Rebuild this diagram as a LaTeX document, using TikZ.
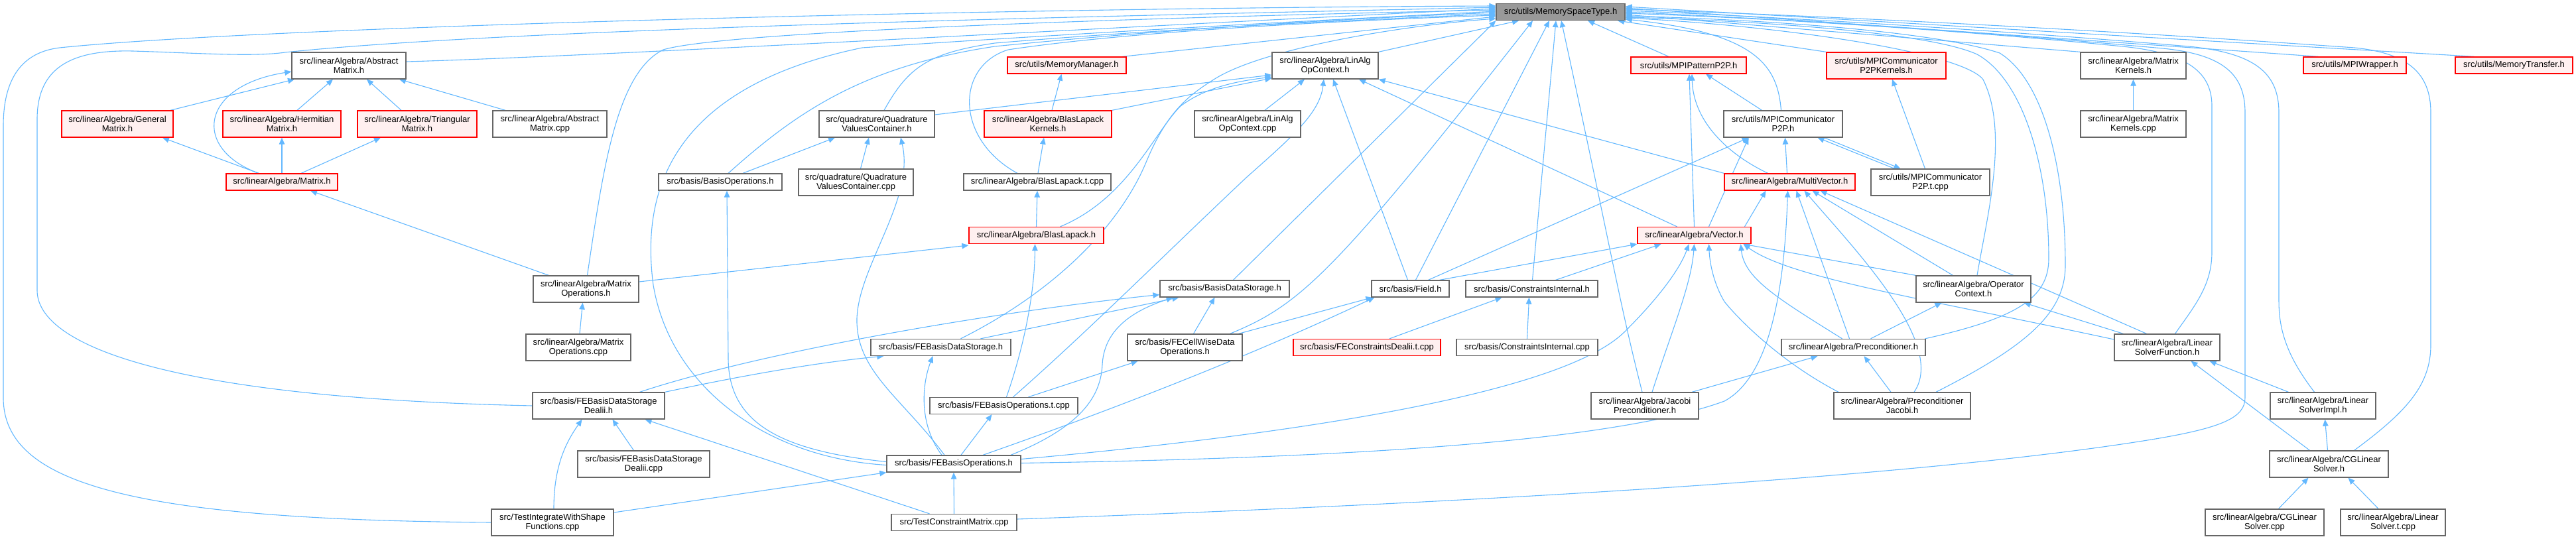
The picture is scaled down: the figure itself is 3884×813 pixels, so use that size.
\documentclass[tikz,border=0pt]{standalone}
\usepackage{fontspec}
\setmainfont{Liberation Sans}
\usetikzlibrary{arrows.meta}
\definecolor{edgec}{HTML}{63B8FF}
\definecolor{dgray}{HTML}{666666}
\definecolor{pinkf}{HTML}{FFF0F0}
\definecolor{rootf}{HTML}{999999}
\newcommand\nodefont{\fontsize{13pt}{14.3pt}\selectfont}
\pgfdeclarelayer{bg}
\pgfsetlayers{bg,main}
\begin{document}
\begin{tikzpicture}[x=1pt,y=-1pt,
  box/.style={draw=dgray, fill=white, line width=1.3pt, inner sep=0pt, align=center, font=\nodefont},
  gbox/.style={box},
  rbox/.style={box, draw=red, fill=pinkf},
  rootbox/.style={box, fill=rootf},
  e/.style={draw=edgec, line width=1.1pt, -{Triangle[length=10pt,width=8.5pt]}},
  one/.style={minimum height=25pt},
  two/.style={minimum height=40pt}]
\useasboundingbox (0,0) rectangle (3884,813);

\node[rootbox,one,minimum width=194pt] (root) at (2353,18) {src/utils/MemorySpaceType.h};
\node[gbox,two,minimum width=172pt] (absm) at (526,99) {src/linearAlgebra/Abstract\\Matrix.h};
\node[rbox,one,minimum width=179pt] (memmgr) at (1608.5,98.5) {src/utils/MemoryManager.h};
\node[gbox,two,minimum width=160pt] (linalg) at (1998,99) {src/linearAlgebra/LinAlg\\OpContext.h};
\node[rbox,one,minimum width=174pt] (mpipat) at (2546,98.5) {src/utils/MPIPatternP2P.h};
\node[rbox,two,minimum width=180pt] (p2pker) at (2844,99) {src/utils/MPICommunicator\\P2PKernels.h};
\node[gbox,two,minimum width=159pt] (matker) at (3216.5,99) {src/linearAlgebra/Matrix\\Kernels.h};
\node[rbox,one,minimum width=155pt] (mpiwrap) at (3550.5,98.5) {src/utils/MPIWrapper.h};
\node[rbox,one,minimum width=177pt] (memtr) at (3790.5,98.5) {src/utils/MemoryTransfer.h};
\node[rbox,two,minimum width=168pt] (genm) at (177,187) {src/linearAlgebra/General\\Matrix.h};
\node[rbox,two,minimum width=178pt] (herm) at (425,187) {src/linearAlgebra/Hermitian\\Matrix.h};
\node[rbox,two,minimum width=180pt] (trim) at (629,187) {src/linearAlgebra/Triangular\\Matrix.h};
\node[gbox,two,minimum width=172pt] (absmcpp) at (829,187) {src/linearAlgebra/Abstract\\Matrix.cpp};
\node[gbox,two,minimum width=174pt] (qvc) at (1322,187) {src/quadrature/Quadrature\\ValuesContainer.h};
\node[rbox,two,minimum width=192pt] (blk) at (1580,187) {src/linearAlgebra/BlasLapack\\Kernels.h};
\node[gbox,two,minimum width=160pt] (linalgcpp) at (1881,187) {src/linearAlgebra/LinAlg\\OpContext.cpp};
\node[gbox,two,minimum width=179pt] (p2p) at (2688.5,187) {src/utils/MPICommunicator\\P2P.h};
\node[gbox,two,minimum width=159pt] (matkercpp) at (3216.5,187) {src/linearAlgebra/Matrix\\Kernels.cpp};
\node[rbox,one,minimum width=168pt] (matrix) at (425,274.5) {src/linearAlgebra/Matrix.h};
\node[gbox,one,minimum width=186pt] (basisops) at (1086,274.5) {src/basis/BasisOperations.h};
\node[gbox,two,minimum width=173pt] (qvccpp) at (1290.5,275) {src/quadrature/Quadrature\\ValuesContainer.cpp};
\node[gbox,one,minimum width=222pt] (blt) at (1564,274.5) {src/linearAlgebra/BlasLapack.t.cpp};
\node[rbox,one,minimum width=197pt] (mv) at (2698.5,274.5) {src/linearAlgebra/MultiVector.h};
\node[gbox,two,minimum width=179pt] (p2pt) at (2910.5,275) {src/utils/MPICommunicator\\P2P.t.cpp};
\node[rbox,one,minimum width=203pt] (bl) at (1562.5,355) {src/linearAlgebra/BlasLapack.h};
\node[rbox,one,minimum width=171pt] (vec) at (2554.5,355) {src/linearAlgebra/Vector.h};
\node[gbox,two,minimum width=159pt] (matops) at (883.5,436) {src/linearAlgebra/Matrix\\Operations.h};
\node[gbox,one,minimum width=195pt] (bds) at (1846.5,435.5) {src/basis/BasisDataStorage.h};
\node[gbox,one,minimum width=117pt] (field) at (2126.5,435.5) {src/basis/Field.h};
\node[gbox,one,minimum width=199pt] (ci) at (2309.5,435.5) {src/basis/ConstraintsInternal.h};
\node[gbox,two,minimum width=173pt] (opctx) at (2975.5,436) {src/linearAlgebra/Operator\\Context.h};
\node[gbox,two,minimum width=158pt] (matopscpp) at (872,524) {src/linearAlgebra/Matrix\\Operations.cpp};
\node[gbox,one,minimum width=211pt] (febds) at (1418.5,524) {src/basis/FEBasisDataStorage.h};
\node[gbox,two,minimum width=173pt] (fecw) at (1786.5,524) {src/basis/FECellWiseData\\Operations.h};
\node[rbox,one,minimum width=222pt] (fect) at (2061,524) {src/basis/FEConstraintsDealii.t.cpp};
\node[gbox,one,minimum width=213pt] (cicpp) at (2302.5,524) {src/basis/ConstraintsInternal.cpp};
\node[gbox,one,minimum width=217pt] (prec) at (2794.5,524) {src/linearAlgebra/Preconditioner.h};
\node[gbox,two,minimum width=159pt] (lsf) at (3267.5,524) {src/linearAlgebra/Linear\\SolverFunction.h};
\node[gbox,two,minimum width=199pt] (febdsd) at (902.5,612) {src/basis/FEBasisDataStorage\\Dealii.h};
\node[gbox,one,minimum width=223pt] (febot) at (1513.5,612) {src/basis/FEBasisOperations.t.cpp};
\node[gbox,two,minimum width=162pt] (jacp) at (2480,612) {src/linearAlgebra/Jacobi\\Preconditioner.h};
\node[gbox,two,minimum width=206pt] (pjac) at (2868,612) {src/linearAlgebra/Preconditioner\\Jacobi.h};
\node[gbox,two,minimum width=159pt] (lsi) at (3502.5,612) {src/linearAlgebra/Linear\\SolverImpl.h};
\node[gbox,two,minimum width=199pt] (febdsdcpp) at (970.5,700) {src/basis/FEBasisDataStorage\\Dealii.cpp};
\node[gbox,one,minimum width=202pt] (febo) at (1438,699.5) {src/basis/FEBasisOperations.h};
\node[gbox,two,minimum width=179pt] (cgls) at (3511.5,700) {src/linearAlgebra/CGLinear\\Solver.h};
\node[gbox,two,minimum width=184pt] (testint) at (833,788) {src/TestIntegrateWithShape\\Functions.cpp};
\node[gbox,one,minimum width=189pt] (testcm) at (1438.5,788) {src/TestConstraintMatrix.cpp};
\node[gbox,two,minimum width=179pt] (cglscpp) at (3414.5,788) {src/linearAlgebra/CGLinear\\Solver.cpp};
\node[gbox,two,minimum width=158pt] (lst) at (3608,788) {src/linearAlgebra/Linear\\Solver.t.cpp};

\begin{pgfonlayer}{bg}
% ---------- left cluster ----------
\draw[e] ([xshift=80pt]genm.north) -- ([xshift=-82pt]absm.south);
\draw[e] ([xshift=23pt]herm.north) -- ([xshift=-24pt]absm.south);
\draw[e] ([xshift=-24pt]trim.north) -- ([xshift=27pt]absm.south);
\draw[e] ([xshift=-67pt]absmcpp.north) -- ([xshift=76pt]absm.south);
\draw[e] ([xshift=-35pt]matrix.north) -- ([xshift=68pt]genm.south);
\draw[e] (matrix.north) -- (herm.south);
\draw[e] ([xshift=29pt]matrix.north) -- ([xshift=-55pt]trim.south);
\draw[e] ([xshift=-35pt]matrix.north) .. controls (290,225) and (300,130) .. ([yshift=-9pt]absm.west);
\draw[e] ([xshift=-56pt]matops.north) -- ([xshift=43pt]matrix.south);
\draw[e] ([xshift=2pt]matopscpp.north) -- ([xshift=-5pt]matops.south);
\draw[e] ([yshift=11pt]matops.east) -- ([yshift=-15pt]bl.west);
% loops to root
\draw[e] (testint.west) .. controls (200,784) and (5,730) .. (5,600) -- (5,190) .. controls (5,110) and (40,78) .. (90,72) .. controls (400,40) and (1500,12) .. ([yshift=9pt]root.west);
\draw[e] (febdsd.west) .. controls (250,600) and (56,520) .. (56,438) -- (56,180) .. controls (56,100) and (110,75) .. (200,77) .. controls (300,80) and (380,86) .. (430,79) .. controls (800,40) and (1800,22) .. ([yshift=7pt]root.west);
\draw[e] ([yshift=6pt]absm.east) .. controls (900,85) and (1700,40) .. ([yshift=5pt]root.west);
\draw[e] ([xshift=2pt]matops.north) .. controls (910,250) and (930,110) .. (1000,75) .. controls (1100,45) and (1800,25) .. ([yshift=3pt]root.west);
\draw[e] ([yshift=-2pt]febo.west) .. controls (1150,690) and (1010,580) .. (985,430) .. controls (965,280) and (1020,130) .. (1300,72) .. controls (1700,45) and (2100,25) .. ([yshift=1pt]root.west);
\draw[e] ([yshift=3pt]febo.west) .. controls (1180,680) and (1098,640) .. (1098,540) -- ([xshift=10pt]basisops.south);
\draw[e] ([xshift=12pt]basisops.north) .. controls (1200,170) and (1300,100) .. (1500,70) .. controls (1800,40) and (2100,25) .. ([yshift=-1pt]root.west);
\draw[e] ([xshift=34pt]basisops.north) -- ([xshift=-63pt]qvc.south);
\draw[e] ([xshift=7pt]qvccpp.north) -- ([xshift=-12pt]qvc.south);
\draw[e] ([xshift=-14pt]febo.north) .. controls (1360,600) and (1290,560) .. (1292,480) .. controls (1295,400) and (1380,300) .. ([xshift=36pt]qvc.south);
\draw[e] ([yshift=14pt]qvc.east) -- ([yshift=-14pt]linalg.west);
\draw[e] ([xshift=11pt]qvc.north) .. controls (1370,100) and (1400,80) .. (1500,65) .. controls (1800,40) and (2100,28) .. ([yshift=-3pt]root.west);
\draw[e] ([xshift=6pt]blk.north) -- ([xshift=-8pt]memmgr.south);
\draw[e] (blk.north east) -- ([yshift=-19pt]linalg.west);
\draw[e] ([xshift=1pt]blt.north) -- ([xshift=-6pt]blk.south);
\draw[e] ([xshift=-30pt]blt.north) .. controls (1440,210) and (1440,100) .. (1520,75) .. controls (1700,48) and (2000,32) .. ([yshift=-5pt]root.west);
\draw[e] (bl.north) -- (blt.south);
\draw[e] ([xshift=36pt]bl.north) .. controls (1700,300) and (1740,200) .. (1780,160) .. controls (1820,130) and (1870,122) .. ([yshift=-17pt]linalg.west);
\draw[e] ([xshift=84pt]memmgr.north) -- ([yshift=-7pt]root.west);
\draw[e] ([xshift=30pt]febds.north) .. controls (1590,440) and (1690,340) .. (1730,240) .. controls (1760,170) and (1790,145) .. (1830,120) .. controls (1900,75) and (2100,40) .. ([yshift=-10pt]root.west);
\draw[e] (linalg.north east) -- ([xshift=-63pt]root.south);
\draw[e] ([xshift=26pt]linalgcpp.north) -- ([xshift=-31pt]linalg.south);
\draw[e] ([xshift=14pt]febot.north) .. controls (1640,500) and (1760,380) .. (1880,267) .. controls (1950,205) and (1990,170) .. ([xshift=-2pt]linalg.south);
\draw[e] ([xshift=-4pt]field.north) -- ([xshift=12pt]linalg.south);
\draw[e] ([xshift=-26pt]vec.north) -- ([xshift=51pt]linalg.south);
\draw[e] (mv.north west) -- (linalg.south east);
\draw[e] ([xshift=13pt]bds.north) -- (root.south west);
\draw[e] ([xshift=68pt]fecw.north) .. controls (1960,460) and (2010,415) .. ([xshift=-42pt]root.south);
\draw[e] ([xshift=81pt]fecw.north) -- ([xshift=2pt]field.south west);
\draw[e] ([xshift=13pt]fecw.north) -- ([xshift=-15pt]bds.south);
\draw[e] ([xshift=37pt]febot.north) -- ([xshift=-71pt]fecw.south);
\draw[e] ([xshift=4pt]febot.north) .. controls (1545,520) and (1560,440) .. ([xshift=-2pt]bl.south);
\draw[e] ([xshift=11pt]febo.north) -- ([xshift=-18pt]febot.south);
\draw[e] ([xshift=-18pt]febo.north) .. controls (1385,640) and (1390,580) .. ([xshift=-12pt]febds.south);
\draw[e] ([xshift=44pt]febo.north) .. controls (1700,610) and (1900,530) .. ([xshift=5pt]field.south west);
\draw[e] ([xshift=86pt]febo.north) .. controls (1640,640) and (1660,590) .. (1662,550) .. controls (1665,490) and (1720,465) .. ([xshift=-78pt]bds.south);
\draw[e] ([yshift=7pt]febo.east) .. controls (1900,660) and (2350,600) .. (2450,500) .. controls (2510,440) and (2535,400) .. ([xshift=-8pt]vec.south);
\draw[e] ([yshift=1pt]febo.east) .. controls (2100,690) and (2450,660) .. (2600,605) .. controls (2665,570) and (2690,450) .. ([xshift=-3pt]mv.south);
\draw[e] (testcm.north) -- (febo.south);
\draw[e] ([yshift=15pt]testint.east) -- (febo.south west);
\draw[e] ([xshift=-37pt]testcm.north) -- ([xshift=70pt]febdsd.south);
\draw[e] ([xshift=2pt]testint.north) .. controls (835,700) and (855,665) .. ([xshift=-25pt]febdsd.south);
\draw[e] ([xshift=-15pt]febdsdcpp.north) -- ([xshift=21pt]febdsd.south);
\draw[e] ([xshift=62pt]febdsd.north) .. controls (1150,530) and (1500,470) .. ([yshift=-9pt]bds.west);
\draw[e] (febdsd.north east) .. controls (1150,560) and (1250,545) .. ([xshift=20pt]febds.south west);
\draw[e] ([xshift=60pt]febds.north) -- ([xshift=-69pt]bds.south);
% ---------- right cluster ----------
\draw[e] ([xshift=-30pt]mpipat.north) -- ([xshift=41pt]root.south);
\draw[e] ([xshift=-32pt]p2p.north) -- ([xshift=26pt]mpipat.south);
\draw[e] ([xshift=-3pt]p2p.north) .. controls (2680,100) and (2650,50) .. ([yshift=-11pt]root.east);
\draw[e] ([xshift=-54pt]p2pt.north) -- ([xshift=52pt]p2p.south);
\draw[e] ([xshift=62pt]p2p.south) -- ([xshift=-45pt]p2pt.north);
\draw[e] ([xshift=-8pt]p2pt.north) -- ([xshift=9pt]p2pker.south);
\draw[e] (p2pker.north west) -- ([xshift=86pt]root.south);
\draw[e] (matker.north west) -- ([yshift=-4pt]root.east);
\draw[e] (matkercpp.north) -- (matker.south);
\draw[e] ([xshift=-55pt]mpiwrap.north) -- ([yshift=6pt]root.east);
\draw[e] ([xshift=-60pt]memtr.north) -- ([yshift=8pt]root.east);
\draw[e] ([xshift=5.5pt]opctx.north) .. controls (2995,330) and (3030,200) .. (2990,120) .. controls (2960,80) and (2700,40) .. ([yshift=-9pt]root.east);
\draw[e] ([xshift=108pt]prec.north) .. controls (3040,480) and (3089,450) .. (3089,390) .. controls (3089,250) and (3050,120) .. (2981,82) .. controls (2900,45) and (2600,30) .. ([yshift=-8pt]root.east);
\draw[e] ([xshift=51pt]pjac.north) .. controls (3060,520) and (3114,470) .. (3114,400) .. controls (3114,250) and (3080,120) .. (3015,80) .. controls (2900,42) and (2600,28) .. ([yshift=-6pt]root.east);
\draw[e] ([xshift=12pt]lsf.north) .. controls (3310,460) and (3335,430) .. (3335,380) -- (3335,160) .. controls (3335,110) and (3300,80) .. (3200,70) .. controls (2900,40) and (2600,25) .. ([yshift=-2pt]root.east);
\draw[e] ([yshift=5pt]testcm.east) .. controls (2200,760) and (2900,720) .. (3250,662) .. controls (3350,645) and (3385,630) .. (3385,600) -- (3385,170) .. controls (3385,110) and (3350,80) .. (3250,72) .. controls (2900,40) and (2600,25) .. (root.east);
\draw[e] ([xshift=-13pt]lsi.north) .. controls (3450,540) and (3436,500) .. (3436,455) -- (3436,170) .. controls (3436,110) and (3400,80) .. (3300,70) .. controls (2950,40) and (2600,22) .. ([yshift=2pt]root.east);
\draw[e] ([xshift=38pt]cgls.north) .. controls (3630,620) and (3665,580) .. (3665,520) -- (3665,170) .. controls (3665,110) and (3630,80) .. (3550,72) .. controls (3100,40) and (2650,20) .. ([yshift=4pt]root.east);
\draw[e] ([xshift=-52pt]lsi.north) -- ([xshift=64pt]lsf.south);
\draw[e] ([xshift=-29pt]cgls.north) -- ([xshift=36pt]lsf.south);
\draw[e] ([xshift=-2pt]cgls.north) -- ([xshift=3pt]lsi.south);
\draw[e] ([xshift=21pt]cglscpp.north) -- ([xshift=-31pt]cgls.south);
\draw[e] ([xshift=-22pt]lst.north) -- ([xshift=29pt]cgls.south);
\draw[e] ([xshift=-66pt]lsf.north) -- ([xshift=76pt]opctx.south);
\draw[e] ([yshift=12pt]lsf.west) .. controls (2900,450) and (2700,420) .. ([xshift=74pt]vec.south);
\draw[e] ([xshift=-31pt]lsf.north) -- ([xshift=46pt]mv.south);
\draw[e] ([xshift=26pt]prec.north) -- ([xshift=-48pt]opctx.south);
\draw[e] ([xshift=-17pt]pjac.north) -- ([xshift=16pt]prec.south);
\draw[e] ([xshift=71pt]jacp.north) -- ([xshift=-54pt]prec.south);
\draw[e] ([xshift=-17pt]prec.north) .. controls (2680,450) and (2630,420) .. ([xshift=70pt]vec.south);
\draw[e] ([xshift=-6pt]prec.north) -- ([xshift=10pt]mv.south);
\draw[e] ([xshift=18pt]pjac.north) .. controls (2935,520) and (2800,380) .. ([xshift=22pt]mv.south);
\draw[e] ([xshift=-96pt]pjac.north) .. controls (2683,545) and (2620,480) .. (2600,455) .. controls (2585,430) and (2578,400) .. ([xshift=22pt]vec.south);
\draw[e] ([xshift=11pt]jacp.north) .. controls (2520,500) and (2550,430) .. (vec.south);
\draw[e] ([xshift=-4pt]jacp.north) .. controls (2440,450) and (2430,380) .. ([xshift=1pt]root.south);
\draw[e] (opctx.north west) -- ([xshift=74pt]vec.south);
\draw[e] ([xshift=-31pt]opctx.north) -- ([xshift=34pt]mv.south);
\draw[e] ([xshift=27pt]field.north) -- ([xshift=-52pt]p2p.south);
\draw[e] ([xshift=44pt]field.north) -- (vec.south west);
\draw[e] ([xshift=8pt]field.north) -- ([xshift=-17pt]root.south);
\draw[e] ([xshift=1pt]ci.north) -- ([xshift=-7pt]root.south);
\draw[e] ([xshift=36pt]ci.north) -- ([xshift=-50pt]vec.south);
\draw[e] ([xshift=34pt]fect.north) -- ([xshift=-45pt]ci.south);
\draw[e] (cicpp.north) -- ([xshift=-4pt]ci.south);
\draw[e] (vec.north) -- ([xshift=1pt]mpipat.south);
\draw[e] ([xshift=76pt]vec.north) -- ([xshift=-36pt]mv.south);
\draw[e] ([xshift=22pt]vec.north) -- ([xshift=-52pt]p2p.south);
\draw[e] ([xshift=-4pt]mv.north) -- ([xshift=3pt]p2p.south);
\draw[e] ([xshift=-33pt]mv.north) .. controls (2600,230) and (2553,180) .. ([xshift=5pt]mpipat.south);
\end{pgfonlayer}
\end{tikzpicture}
\end{document}
